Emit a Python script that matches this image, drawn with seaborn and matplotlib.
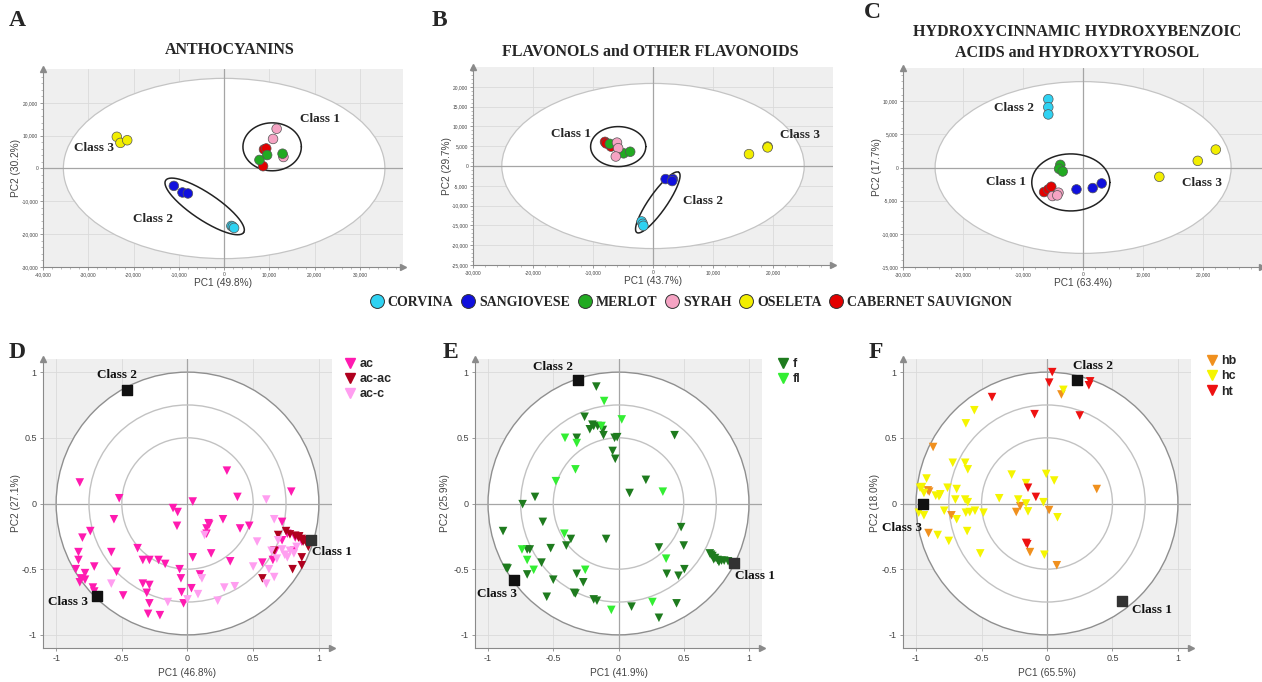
import numpy as np
import pandas as pd
import matplotlib
matplotlib.use('Agg')
import matplotlib.pyplot as plt
import seaborn as sns
from matplotlib.patches import Ellipse, Circle
from matplotlib.lines import Line2D
from matplotlib.ticker import FuncFormatter, FixedLocator, AutoMinorLocator

sns.set_theme(style='white')
plt.rcParams['font.family'] = ['Liberation Sans', 'DejaVu Sans']
SERIF = ['Liberation Serif', 'DejaVu Serif']

# ---- score plots (top row) ----
varieties = ['CORVINA', 'SANGIOVESE', 'MERLOT', 'SYRAH', 'OSELETA', 'CABERNET SAUVIGNON']
variety_colors = ['#2fd2f2', '#1010dd', '#22aa22', '#f5a3c3', '#f2ee00', '#e30000']

# A - anthocyanins
a_pc1 = [-23700, -22900, -21400, -11100, -9200, -8000, 1600, 1900, 2200,
         11600, 10800, 13100, 8800, 9300, 8600, 9500, 7800, 12900]
a_pc2 = [9650, 7800, 8600, -5300, -7300, -7600, -17500, -17700, -18100,
         12100, 9000, 3500, 5800, 6100, 700, 4100, 2600, 4500]
a_var = ['OSELETA'] * 3 + ['SANGIOVESE'] * 3 + ['CORVINA'] * 3 + ['SYRAH'] * 3 + \
        ['CABERNET SAUVIGNON'] * 3 + ['MERLOT'] * 3

# B - flavonols and other flavonoids
b_pc1 = [-8000, -7800, -7000, -7200, -4900, -3800, -6000, -5800, -6200,
         2100, 3300, 3200, -1900, -1700, -1600, 16000, 19100, 19100]
b_pc2 = [6100, 5700, 4900, 5600, 3200, 3600, 5900, 4500, 2400,
         -3300, -3300, -3800, -14000, -14600, -15100, 3000, 4900, 4700]
b_var = ['CABERNET SAUVIGNON'] * 3 + ['MERLOT'] * 3 + ['SYRAH'] * 3 + \
        ['SANGIOVESE'] * 3 + ['CORVINA'] * 3 + ['OSELETA'] * 3

# C - hydroxycinnamic / hydroxybenzoic acids and hydroxytyrosol
c_pc1 = [-5800, -5800, -5800, -3800, -4000, -3400, -6500, -5800, -5300,
         -5100, -4100, -4300, -1100, 1600, 3100, 12700, 19100, 22100]
c_pc2 = [10300, 9100, 8000, 400, -200, -600, -3700, -3300, -2900,
         -4300, -3800, -4200, -3300, -3100, -2400, -1400, 1000, 2700]
c_var = ['CORVINA'] * 3 + ['MERLOT'] * 3 + ['CABERNET SAUVIGNON'] * 3 + \
        ['SYRAH'] * 3 + ['SANGIOVESE'] * 3 + ['OSELETA'] * 3

# ---- loading plots (bottom row) ----
d_groups = ['ac', 'ac-ac', 'ac-c']
d_colors = ['#ff1ab0', '#b0001e', '#ff9ef0']
d_ac = [(-0.82, 0.16), (-0.52, 0.04), (0.30, 0.25), (0.38, 0.05), (0.79, 0.09), (0.04, 0.015),
        (-0.11, -0.035), (-0.075, -0.065), (-0.08, -0.17), (-0.56, -0.12), (-0.74, -0.21),
        (-0.80, -0.26), (-0.83, -0.37), (-0.83, -0.43), (-0.85, -0.50), (-0.78, -0.53),
        (-0.81, -0.57), (-0.78, -0.58), (-0.82, -0.60), (-0.71, -0.48), (-0.72, -0.64),
        (-0.71, -0.67), (-0.58, -0.37), (-0.54, -0.52), (-0.38, -0.34), (-0.34, -0.43),
        (-0.29, -0.43), (-0.22, -0.43), (-0.17, -0.46), (-0.34, -0.61), (-0.29, -0.62),
        (-0.31, -0.68), (-0.29, -0.76), (-0.30, -0.84), (-0.21, -0.85), (-0.49, -0.70),
        (-0.06, -0.50), (-0.05, -0.57), (-0.045, -0.675), (-0.03, -0.76), (0.03, -0.645),
        (0.04, -0.41), (0.095, -0.54), (0.16, -0.15), (0.145, -0.19), (0.145, -0.23),
        (0.18, -0.38), (0.27, -0.12), (0.325, -0.44), (0.40, -0.19), (0.47, -0.17),
        (0.72, -0.14), (0.57, -0.45), (0.65, -0.43), (0.67, -0.36), (0.72, -0.28),
        (0.76, -0.23), (0.82, -0.26), (0.87, -0.29), (0.81, -0.36), (0.165, -0.16)]
d_acac = [(0.69, -0.24), (0.75, -0.21), (0.78, -0.235), (0.82, -0.245), (0.845, -0.26),
          (0.87, -0.27), (0.895, -0.28), (0.92, -0.33), (0.66, -0.36), (0.87, -0.41),
          (0.80, -0.50), (0.87, -0.47), (0.57, -0.57), (0.85, -0.25), (0.88, -0.29)]
d_acc = [(0.60, 0.03), (0.66, -0.12), (0.53, -0.29), (0.50, -0.48), (0.62, -0.50), (0.66, -0.56),
         (0.60, -0.61), (0.69, -0.28), (0.64, -0.36), (0.72, -0.35), (0.74, -0.39), (0.78, -0.36),
         (0.83, -0.33), (0.76, -0.41), (0.81, -0.38), (0.28, -0.64), (0.36, -0.63), (0.23, -0.74),
         (0.08, -0.69), (0.0, -0.73), (-0.15, -0.75), (-0.58, -0.61), (0.11, -0.57), (0.13, -0.24),
         (0.68, -0.42)]

e_groups = ['f', 'fl']
e_colors = ['#1e7b1e', '#33ee33']
e_f = [(-0.17, 0.89), (-0.26, 0.66), (-0.20, 0.60), (-0.19, 0.59), (-0.16, 0.59), (-0.22, 0.565),
       (-0.12, 0.56), (-0.115, 0.52), (-0.32, 0.50), (-0.03, 0.50), (-0.01, 0.505), (-0.045, 0.40),
       (-0.025, 0.34), (0.43, 0.52), (0.21, 0.18), (0.085, 0.08), (-0.735, -0.005), (-0.64, 0.05),
       (-0.58, -0.14), (-0.885, -0.21), (-0.86, -0.49), (-0.85, -0.495), (-0.70, -0.35),
       (-0.68, -0.35), (-0.52, -0.34), (-0.365, -0.27), (-0.40, -0.32), (-0.59, -0.45),
       (-0.70, -0.54), (-0.50, -0.58), (-0.55, -0.71), (-0.34, -0.68), (-0.33, -0.685),
       (-0.32, -0.535), (-0.27, -0.60), (-0.19, -0.73), (-0.165, -0.74), (-0.095, -0.27),
       (0.31, -0.335), (0.48, -0.18), (0.50, -0.32), (0.505, -0.50), (0.37, -0.535), (0.46, -0.55),
       (0.445, -0.76), (0.31, -0.87), (0.10, -0.785), (0.70, -0.38), (0.72, -0.40), (0.74, -0.415),
       (0.76, -0.43), (0.79, -0.435), (0.81, -0.435), (0.84, -0.44), (0.73, -0.425), (0.77, -0.445),
       (0.71, -0.39)]
e_fl = [(-0.11, 0.78), (0.025, 0.64), (-0.13, 0.59), (-0.41, 0.50), (-0.32, 0.46), (-0.33, 0.26),
        (-0.48, 0.17), (0.34, 0.09), (-0.415, -0.23), (-0.74, -0.35), (-0.70, -0.43), (-0.65, -0.505),
        (-0.255, -0.505), (0.365, -0.42), (0.26, -0.75), (-0.055, -0.81)]

f_groups = ['hb', 'hc', 'ht']
f_colors = ['#f0901e', '#f5f500', '#ee1111']
f_hb = [(0.11, 0.83), (-0.87, 0.43), (0.38, 0.11), (-0.91, 0.10), (-0.90, 0.09), (-0.73, -0.09),
        (-0.235, -0.065), (-0.205, -0.02), (0.016, -0.05), (-0.905, -0.225), (-0.13, -0.37),
        (0.075, -0.47)]
f_hc = [(0.125, 0.865), (-0.555, 0.71), (-0.62, 0.61), (-0.72, 0.31), (-0.625, 0.31), (-0.605, 0.26),
        (-0.92, 0.19), (-0.97, 0.12), (-0.955, 0.125), (-0.94, 0.08), (-0.85, 0.06), (-0.815, 0.07),
        (-0.825, 0.055), (-0.76, 0.12), (-0.69, 0.11), (-0.70, 0.03), (-0.625, 0.03), (-0.605, 0.01),
        (-0.98, -0.07), (-0.94, -0.09), (-0.785, -0.055), (-0.69, -0.12), (-0.62, -0.07),
        (-0.59, -0.065), (-0.55, -0.055), (-0.485, -0.07), (-0.61, -0.21), (-0.835, -0.24),
        (-0.75, -0.285), (-0.51, -0.38), (-0.365, 0.04), (-0.27, 0.22), (-0.16, 0.155), (-0.22, 0.03),
        (-0.16, 0.0), (-0.145, -0.06), (-0.027, 0.01), (-0.006, 0.225), (0.055, 0.175),
        (0.08, -0.105), (-0.02, -0.39)]
f_ht = [(0.04, 1.0), (0.017, 0.92), (0.33, 0.93), (0.32, 0.90), (-0.42, 0.81), (-0.095, 0.68),
        (0.25, 0.67), (-0.145, 0.12), (-0.085, 0.05), (-0.16, -0.30), (-0.15, -0.31)]

# class positions on loading plots
d_class = {'Class 1': (0.94, -0.28), 'Class 2': (-0.46, 0.865), 'Class 3': (-0.69, -0.705)}
e_class = {'Class 1': (0.885, -0.455), 'Class 2': (-0.31, 0.94), 'Class 3': (-0.80, -0.58)}
f_class = {'Class 1': (0.57, -0.745), 'Class 2': (0.23, 0.94), 'Class 3': (-0.95, 0.0)}

BG = '#efefef'
AXC = '#8a8a8a'


def px_axes(fig, l, r, t, b):
    W, H = 1262, 682
    return fig.add_axes([l / W, 1 - b / H, (r - l) / W, (b - t) / H])


def arrows(ax):
    ax.plot([0], [1.0], marker='^', ms=4, color=AXC, transform=ax.transAxes, clip_on=False, zorder=6)
    ax.plot([1.0], [0], marker='>', ms=4, color=AXC, transform=ax.transAxes, clip_on=False, zorder=6)


def base_style(ax):
    ax.set_facecolor(BG)
    ax.set_axisbelow(True)
    for s in ['top', 'right']:
        ax.spines[s].set_visible(False)
    for s in ['left', 'bottom']:
        ax.spines[s].set_color(AXC)
        ax.spines[s].set_linewidth(0.8)
    ax.grid(True, color='#dadada', lw=0.6)
    ax.tick_params(direction='out', color=AXC, length=2.5, width=0.6, colors='#444')
    ax.tick_params(axis='both', which='both', bottom=True, left=True)
    ax.axhline(0, color='#a5a5a5', lw=0.9, zorder=1.5)
    ax.axvline(0, color='#a5a5a5', lw=0.9, zorder=1.5)
    arrows(ax)


def ring(ax, cx, cy, ux, uy, vx, vy):
    t = np.linspace(0, 2 * np.pi, 200)
    ax.plot(cx + ux * np.cos(t) + vx * np.sin(t), cy + uy * np.cos(t) + vy * np.sin(t),
            color='#222', lw=1.1, zorder=3)


def score_panel(ax, pc1, pc2, var, xlim, ylim, xt, yt, t2, xlab, ylab, ylab_x):
    base_style(ax)
    ax.set_xlim(*xlim)
    ax.set_ylim(*ylim)
    ax.xaxis.set_major_locator(FixedLocator(xt))
    ax.yaxis.set_major_locator(FixedLocator(yt))
    ax.xaxis.set_minor_locator(AutoMinorLocator(5))
    ax.yaxis.set_minor_locator(AutoMinorLocator(5))
    ax.tick_params(which='minor', length=1.2, width=0.4, color=AXC)
    fmt = FuncFormatter(lambda v, p: f'{v:,.0f}')
    ax.xaxis.set_major_formatter(fmt)
    ax.yaxis.set_major_formatter(fmt)
    ax.tick_params(labelsize=3.5, pad=1)
    ax.add_patch(Ellipse((0, 0), 2 * t2[0], 2 * t2[1], facecolor='white', edgecolor='#c4c4c4',
                         lw=0.9, zorder=1))
    df = pd.DataFrame({'pc1': pc1, 'pc2': pc2, 'variety': var})
    sns.scatterplot(data=df, x='pc1', y='pc2', hue='variety',
                    palette=dict(zip(varieties, variety_colors)), s=48,
                    edgecolor='#555', linewidth=0.5, legend=False, ax=ax, zorder=5)
    ax.set_xlabel(xlab, fontsize=7.3, color='#444')
    ax.set_ylabel(ylab, fontsize=7.3, color='#444')
    ax.xaxis.set_label_coords(0.5, -0.055)
    ax.yaxis.set_label_coords(ylab_x, 0.5)


def loading_panel(ax, groups, colors, series, classes, labpos, xlab, ylab, ylab_x, leg_anchor):
    base_style(ax)
    ax.set_xlim(-1.1, 1.1)
    ax.set_ylim(-1.1, 1.1)
    ticks = [-1, -0.5, 0, 0.5, 1]
    ax.xaxis.set_major_locator(FixedLocator(ticks))
    ax.yaxis.set_major_locator(FixedLocator(ticks))
    fmt = FuncFormatter(lambda v, p: f'{v:g}')
    ax.xaxis.set_major_formatter(fmt)
    ax.yaxis.set_major_formatter(fmt)
    ax.tick_params(labelsize=6.5, pad=2)
    ax.add_patch(Circle((0, 0), 1, facecolor='white', edgecolor='#8f8f8f', lw=1.0, zorder=1))
    for r in [0.75, 0.5]:
        ax.add_patch(Circle((0, 0), r, facecolor='none', edgecolor='#c2c2c2', lw=1.0, zorder=1.6))
    rows = []
    for g, pts in zip(groups, series):
        for x, y in pts:
            rows.append((x, y, g))
    df = pd.DataFrame(rows, columns=['pc1', 'pc2', 'group'])
    sns.scatterplot(data=df, x='pc1', y='pc2', hue='group', palette=dict(zip(groups, colors)),
                    marker='v', s=38, edgecolor='none', linewidth=0, legend=False, ax=ax, zorder=5)
    for name, (x, y) in classes.items():
        c = '#333' if name == 'Class 1' else '#111'
        ax.scatter([x], [y], marker='s', s=50, color=c, zorder=7)
        tx, ty = labpos[name]
        ax.text(tx, ty, name, ha='center', va='center', fontsize=9.5, fontweight='bold',
                family=SERIF, color='#111', zorder=8, clip_on=False)
    ax.set_xlabel(xlab, fontsize=7.3, color='#444')
    ax.set_ylabel(ylab, fontsize=7.3, color='#444')
    ax.xaxis.set_label_coords(0.5, -0.068)
    ax.yaxis.set_label_coords(ylab_x, 0.5)
    handles = [Line2D([], [], marker='v', ls='none', color=c, markersize=7.5) for c in colors]
    ax.legend(handles, groups, loc='upper left', bbox_to_anchor=leg_anchor, frameon=False,
              handletextpad=0.15, labelspacing=0.25, borderaxespad=0, handlelength=1.2,
              prop={'weight': 'bold', 'size': 9})


fig = plt.figure(figsize=(12.62, 6.82), dpi=100)

# top row
axA = px_axes(fig, 43, 403, 69, 267)
score_panel(axA, a_pc1, a_pc2, a_var, (-40000, 39500), (-30000, 30300),
            range(-40000, 30001, 10000), range(-30000, 20001, 10000), (35500, 27450),
            'PC1 (49.8%)', 'PC2 (30.2%)', -0.061)
ring(axA, 10600, 6600, 6450, 0, 0, 7300)
ring(axA, -4300, -11550, 8600, -7950, 1680, 3350)
for txt, x, y in [('Class 1', 21200, 15200), ('Class 3', -28800, 6100), ('Class 2', -15600, -15400)]:
    axA.text(x, y, txt, ha='center', va='center', fontsize=9.5, fontweight='bold', family=SERIF, zorder=8)

axB = px_axes(fig, 473, 833, 67, 265)
score_panel(axB, b_pc1, b_pc2, b_var, (-30000, 30000), (-25000, 25000),
            range(-30000, 20001, 10000), range(-25000, 20001, 5000), (25200, 20850),
            'PC1 (43.7%)', 'PC2 (29.7%)', -0.058)
ring(axB, -5800, 4900, 4600, 0, 0, 5050)
ring(axB, 800, -9200, 3500, 7600, 1230, -1300)
for txt, x, y in [('Class 1', -13600, 8200), ('Class 3', 24500, 7800), ('Class 2', 8400, -8800)]:
    axB.text(x, y, txt, ha='center', va='center', fontsize=9.5, fontweight='bold', family=SERIF, zorder=8)

axC = px_axes(fig, 903, 1262, 68, 267)
score_panel(axC, c_pc1, c_pc2, c_var, (-30000, 29800), (-15000, 15000),
            range(-30000, 20001, 10000), range(-15000, 10001, 5000), (24650, 12950),
            'PC1 (63.4%)', 'PC2 (17.7%)', -0.058)
ring(axC, -2050, -2250, 6500, 0, 0, 4300)
for txt, x, y in [('Class 2', -11500, 9000), ('Class 1', -12800, -2250), ('Class 3', 19800, -2350)]:
    axC.text(x, y, txt, ha='center', va='center', fontsize=9.5, fontweight='bold', family=SERIF, zorder=8)

# titles and panel letters
W, H = 1262, 682
title_kw = dict(fontsize=11.5, fontweight='bold', family=SERIF, ha='center', va='center')
fig.text(230 / W, 1 - 50 / H, 'ANTHOCYANINS', **title_kw)
fig.text(650 / W, 1 - 52 / H, 'FLAVONOLS and OTHER FLAVONOIDS', **title_kw)
fig.text(1077 / W, 1 - 32 / H, 'HYDROXYCINNAMIC HYDROXYBENZOIC', **title_kw)
fig.text(1077 / W, 1 - 53 / H, 'ACIDS and HYDROXYTYROSOL', **title_kw)
letter_kw = dict(fontsize=17, fontweight='bold', family=SERIF, ha='left', va='center')
for lt, x, y in [('A', 9, 20), ('B', 432, 20), ('C', 864, 13), ('D', 9, 352), ('E', 443, 352), ('F', 869, 352)]:
    fig.text(x / W, 1 - y / H, lt, **letter_kw)

# variety legend
vh = [Line2D([], [], marker='o', ls='none', markerfacecolor=c, markeredgecolor='#333',
             markeredgewidth=0.7, markersize=10) for c in variety_colors]
fig.legend(vh, varieties, loc='center', bbox_to_anchor=(691 / W, 1 - 302 / H), ncol=6, frameon=False,
           handletextpad=0.3, columnspacing=0.55, handlelength=1.0,
           prop={'family': SERIF, 'weight': 'bold', 'size': 10})

# bottom row
axD = px_axes(fig, 43, 332, 359, 648)
loading_panel(axD, d_groups, d_colors, [d_ac, d_acac, d_acc], d_class,
              {'Class 1': (1.10, -0.37), 'Class 2': (-0.54, 0.98), 'Class 3': (-0.91, -0.75)},
              'PC1 (46.8%)', 'PC2 (27.1%)', -0.076, (1.02, 1.02))

axE = px_axes(fig, 475, 762, 359, 648)
loading_panel(axE, e_groups, e_colors, [e_f, e_fl], e_class,
              {'Class 1': (1.05, -0.55), 'Class 2': (-0.50, 1.04), 'Class 3': (-0.93, -0.69)},
              'PC1 (41.9%)', 'PC2 (25.9%)', -0.087, (1.03, 1.02))

axF = px_axes(fig, 903, 1191, 359, 648)
loading_panel(axF, f_groups, f_colors, [f_hb, f_hc, f_ht], f_class,
              {'Class 1': (0.80, -0.81), 'Class 2': (0.355, 1.05), 'Class 3': (-1.11, -0.19)},
              'PC1 (65.5%)', 'PC2 (18.0%)', -0.08, (1.03, 1.03))

fig.savefig('out.png', dpi=100)
